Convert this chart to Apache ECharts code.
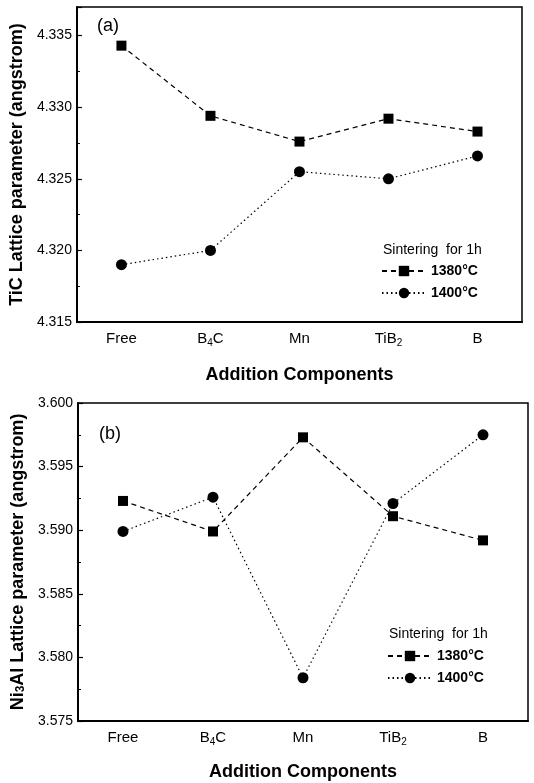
<!DOCTYPE html>
<html>
<head>
<meta charset="utf-8">
<script src="https://cdn.jsdelivr.net/npm/echarts@6/dist/echarts.min.js"></script>
<style>
  html, body { margin: 0; padding: 0; background: #fff; }
  #main { width: 534px; height: 783px; }
</style>
</head>
<body>
<div id="main"></div>
<script>
var categories = ["Free", "B4C", "Mn", "TiB2", "B"];
var seriesNames = ["1380°C", "1400°C"];

// panel (a): TiC lattice parameter
var ticAt1380 = [4.3343, 4.3294, 4.3276, 4.3292, 4.3283];
var ticAt1400 = [4.3190, 4.3200, 4.3255, 4.3250, 4.3266];

// panel (b): Ni3Al lattice parameter
var ni3alAt1380 = [3.5923, 3.5899, 3.5973, 3.5911, 3.5892];
var ni3alAt1400 = [3.5899, 3.5926, 3.5784, 3.5921, 3.5975];

var chartDom = document.getElementById("main");
var myChart = echarts.init(chartDom);
var FONT = "Liberation Sans";

function catLabel(v) {
  // write the digit in B4C / TiB2 as a subscript
  var m = v.match(/^(.*?)(\d)(.*)$/);
  if (!m) return "{n|" + v + "}";
  var s = "{n|" + m[1] + "}{s|" + m[2] + "}";
  if (m[3]) s += "{n|" + m[3] + "}";
  return s;
}

function xAxisFor(gridIndex, gap) {
  return {
    type: "category",
    gridIndex: gridIndex,
    data: categories,
    name: "Addition Components",
    nameLocation: "middle",
    nameGap: gap,
    nameTextStyle: { fontFamily: FONT, fontSize: 18, fontWeight: "bold", color: "#000" },
    axisLine: { lineStyle: { color: "#000", width: 2 } },
    axisTick: { inside: true, alignWithLabel: true, interval: 0, length: 6, lineStyle: { color: "#000", width: 1.5 } },
    axisLabel: {
      interval: 0,
      hideOverlap: false,
      margin: 8,
      color: "#000",
      formatter: catLabel,
      rich: {
        n: { fontFamily: FONT, fontSize: 15, color: "#000", lineHeight: 18 },
        s: { fontFamily: FONT, fontSize: 10, color: "#000", lineHeight: 10, verticalAlign: "bottom" }
      }
    },
    splitLine: { show: false }
  };
}

function yAxisFor(gridIndex, min, max, name, rich) {
  return {
    type: "value",
    gridIndex: gridIndex,
    min: min,
    max: max,
    interval: 0.005,
    name: name,
    nameLocation: "middle",
    nameGap: 43,
    nameTextStyle: {
      fontFamily: FONT, fontSize: 18, fontWeight: "bold", color: "#000",
      rich: rich
    },
    axisLine: { show: true, lineStyle: { color: "#000", width: 2 } },
    axisTick: { show: true, inside: true, length: 5, lineStyle: { color: "#000", width: 1.2 } },
    minorTick: { show: true, splitNumber: 2, length: 3, lineStyle: { color: "#000", width: 1 } },
    axisLabel: {
      fontFamily: FONT, fontSize: 14, color: "#000", margin: 5,
      showMaxLabel: Math.abs(max / 0.005 - Math.round(max / 0.005)) < 1e-6,
      formatter: function (v) { return v.toFixed(3); }
    },
    splitLine: { show: false }
  };
}

function lineSeries(name, data, idx, dashed) {
  return {
    name: name,
    type: "line",
    xAxisIndex: idx,
    yAxisIndex: idx,
    data: data,
    symbol: dashed ? "rect" : "circle",
    symbolSize: dashed ? 10 : 11,
    itemStyle: { color: "#000" },
    lineStyle: { color: "#000", width: 1.2, type: dashed ? [5, 4] : [1.5, 3] },
    emphasis: { disabled: true },
    z: 3
  };
}

var legendCommon = {
  orient: "vertical",
  itemWidth: 44,
  itemHeight: 13,
  itemGap: 8,
  data: seriesNames,
  textStyle: { fontFamily: FONT, fontSize: 14, fontWeight: "bold", color: "#000" }
};

var option = {
  backgroundColor: "#fff",
  animation: false,
  title: [
    { text: "(a)", left: 92, top: 12, textStyle: { fontFamily: FONT, fontSize: 18, fontWeight: "normal", color: "#000" } },
    { text: "(b)", left: 94, top: 420, textStyle: { fontFamily: FONT, fontSize: 18, fontWeight: "normal", color: "#000" } },
    { text: "Sintering  for 1h", left: 378, top: 238, textStyle: { fontFamily: FONT, fontSize: 14, fontWeight: "normal", color: "#000" } },
    { text: "Sintering  for 1h", left: 384, top: 622, textStyle: { fontFamily: FONT, fontSize: 14, fontWeight: "normal", color: "#000" } }
  ],
  legend: [
    Object.assign({ left: 376, top: 259 }, legendCommon),
    Object.assign({ left: 382, top: 644 }, legendCommon)
  ],
  grid: [
    { left: 76, top: 7, width: 446, height: 315, show: true, borderColor: "#000", borderWidth: 1.5 },
    { left: 78, top: 403, width: 450, height: 318, show: true, borderColor: "#000", borderWidth: 1.5 }
  ],
  xAxis: [xAxisFor(0, 44), xAxisFor(1, 42)],
  yAxis: [
    yAxisFor(0, 4.315, 4.337, "TiC Lattice parameter (angstrom)", {}),
    yAxisFor(1, 3.575, 3.600, "{b|Ni}{s|3}{b|Al Lattice parameter (angstrom)}", {
      b: { fontFamily: FONT, fontSize: 18, fontWeight: "bold", color: "#000" },
      s: { fontFamily: FONT, fontSize: 12, fontWeight: "bold", color: "#000", verticalAlign: "bottom", lineHeight: 10 }
    })
  ],
  series: [
    lineSeries(seriesNames[0], ticAt1380, 0, true),
    lineSeries(seriesNames[1], ticAt1400, 0, false),
    lineSeries(seriesNames[0], ni3alAt1380, 1, true),
    lineSeries(seriesNames[1], ni3alAt1400, 1, false)
  ]
};

option && myChart.setOption(option);
</script>
</body>
</html>
